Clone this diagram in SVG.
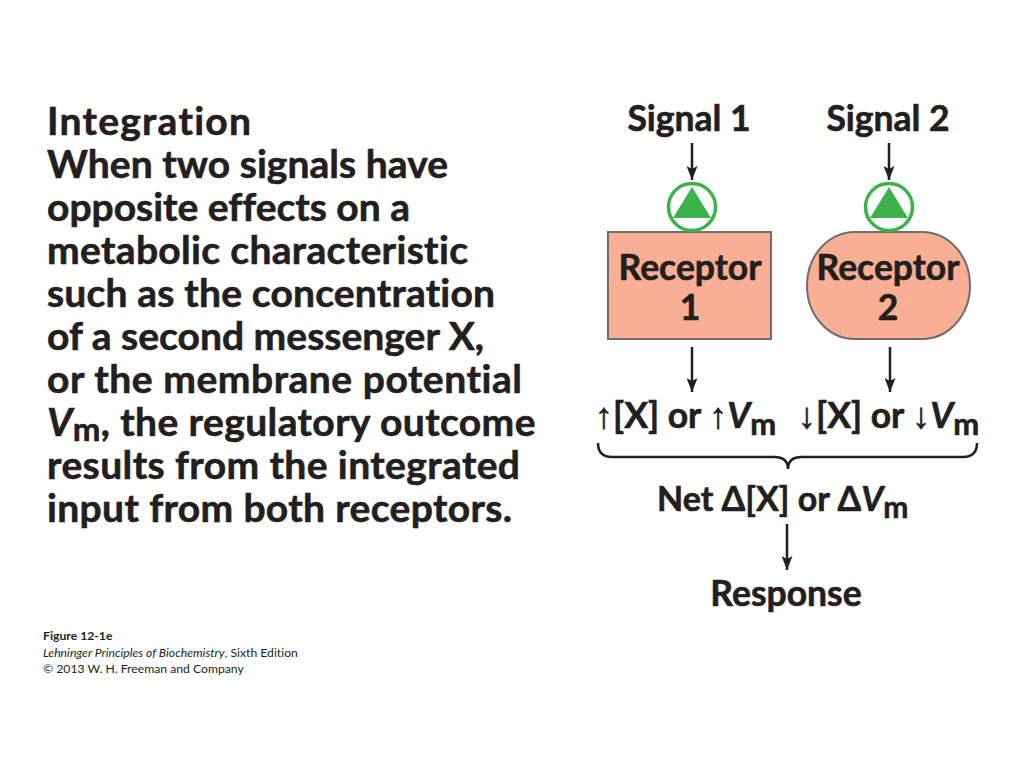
<svg xmlns="http://www.w3.org/2000/svg" width="1024" height="768" viewBox="0 0 1024 768">
<defs>
<style>
.t{font-family:Lato,"Open Sans","DejaVu Sans",sans-serif;font-weight:bold;fill:#231f20;stroke:#231f20;stroke-width:0.6;font-variant-ligatures:none;font-feature-settings:"liga" 0}
.body{font-size:39px}
.lbl{font-size:35.5px}
.arr{font-family:"Liberation Sans","DejaVu Sans",sans-serif;font-weight:bold;font-size:36px}
.conn{stroke:#231f20;stroke-width:2.5;fill:none}
.rc{fill:#f9af93;stroke:#6d6e70;stroke-width:2}
.gc{fill:#ffffff;stroke:#3cb24a;stroke-width:3.5}
.gt{fill:#3cb24a}
.foot{font-family:Lato,"Open Sans",sans-serif;font-size:12.2px;fill:#231f20;font-variant-ligatures:none}
</style>
<marker id="ah" viewBox="0 0 14 11" refX="14" refY="5.5" markerWidth="14" markerHeight="11" markerUnits="userSpaceOnUse" orient="auto">
<path d="M0,0 L14,5.5 L0,11 L3,5.5 Z" fill="#231f20"/>
</marker>
</defs>
<rect width="1024" height="768" fill="#ffffff"/>

<g id="description" class="t body">
<text x="47" y="135" textLength="204">Integration</text>
<text x="47" y="178" textLength="401">When two signals have</text>
<text x="47" y="221" textLength="363">opposite effects on a</text>
<text x="47" y="264" textLength="421">metabolic characteristic</text>
<text x="47" y="307" textLength="448">such as the concentration</text>
<text x="47" y="350" textLength="437">of a second messenger X,</text>
<text x="47" y="393" textLength="475">or the membrane potential</text>
<text x="47" y="436" letter-spacing="0.4"><tspan font-style="italic">V</tspan><tspan dy="5" font-size="33">m</tspan><tspan dy="-5">, the regulatory outcome</tspan></text>
<text x="47" y="479" textLength="473">results from the integrated</text>
<text x="47" y="522" textLength="465">input from both receptors.</text>
</g>

<g id="signal1"><text class="t lbl" x="689" y="131" text-anchor="middle">Signal 1</text></g>
<g id="signal2"><text class="t lbl" x="888" y="131" text-anchor="middle">Signal 2</text></g>

<g id="receptor1">
<rect class="rc" x="608" y="232" width="163" height="107"/>
<circle class="gc" cx="692" cy="207" r="23.5"/>
<polygon class="gt" points="692,187 711,218 673,218"/>
<text class="t lbl" x="690" y="280" text-anchor="middle">Receptor</text>
<text class="t lbl" x="690" y="320" text-anchor="middle">1</text>
</g>

<g id="receptor2">
<rect class="rc" x="807" y="232" width="163" height="107" rx="48" ry="53"/>
<circle class="gc" cx="889" cy="207" r="23.5"/>
<polygon class="gt" points="889,187 908,218 870,218"/>
<text class="t lbl" x="888" y="280" text-anchor="middle">Receptor</text>
<text class="t lbl" x="888" y="320" text-anchor="middle">2</text>
</g>

<g id="effect1">
<text class="t lbl" x="595" y="428"><tspan class="arr">↑</tspan>[X] or <tspan class="arr">↑</tspan><tspan font-style="italic">V</tspan><tspan dy="7" font-size="31">m</tspan></text>
</g>

<g id="effect2">
<text class="t lbl" x="798" y="428"><tspan class="arr">↓</tspan>[X] or <tspan class="arr">↓</tspan><tspan font-style="italic">V</tspan><tspan dy="7" font-size="31">m</tspan></text>
</g>

<g id="net">
<text class="t lbl" x="657" y="511" style="font-size:34px">Net Δ[X] or Δ<tspan font-style="italic">V</tspan><tspan dy="7" font-size="30">m</tspan></text>
</g>

<g id="response"><text class="t lbl" x="786" y="606" text-anchor="middle">Response</text></g>

<g id="connectors">
<line class="conn" x1="692" y1="143" x2="692" y2="180" marker-end="url(#ah)"/>
<line class="conn" x1="889" y1="143" x2="889" y2="180" marker-end="url(#ah)"/>
<line class="conn" x1="692" y1="347" x2="692" y2="392" marker-end="url(#ah)"/>
<line class="conn" x1="890" y1="347" x2="890" y2="392" marker-end="url(#ah)"/>
<path class="conn" d="M598,443 Q598,457 612,457 L774,457 Q788,457 788,469 Q788,457 802,457 L963,457 Q977,457 977,443"/>
<line class="conn" x1="787" y1="524" x2="787" y2="570" marker-end="url(#ah)"/>
</g>

<g id="caption">
<text class="foot" x="43" y="640" font-weight="bold">Figure 12-1e</text>
<text class="foot" x="43" y="657"><tspan font-style="italic">Lehninger Principles of Biochemistry</tspan>, Sixth Edition</text>
<text class="foot" x="43" y="673">© 2013 W. H. Freeman and Company</text>
</g>
</svg>
